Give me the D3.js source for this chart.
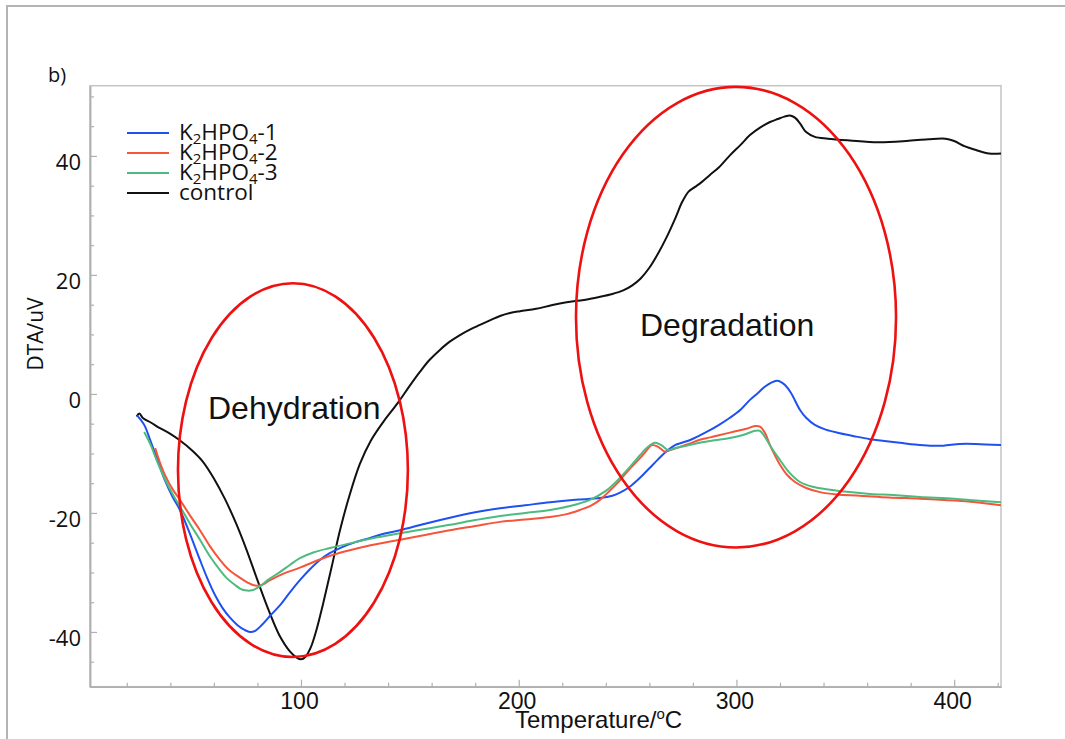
<!DOCTYPE html>
<html><head><meta charset="utf-8">
<script src="https://cdn.jsdelivr.net/npm/d3@7"></script>
<style>
html,body{margin:0;padding:0;background:#fff;}
svg{display:block;font-family:"Liberation Sans",Arial,sans-serif;}
</style></head>
<body><svg id="c" width="1065" height="739"></svg>
<script>
// ---- data ----
const seriesNames = ["K2HPO4-1", "K2HPO4-2", "K2HPO4-3", "control"];
const seriesColors = ["#1f50f0", "#f5553a", "#4dbb7f", "#111111"];

const k1T = [24.7, 28, 30.7, 34, 37.5, 41, 44.4, 49, 53.6, 57, 60.5, 64, 67.4, 71, 74.3, 76.6, 79, 82.1, 86, 90.4, 95, 99.5, 104, 108.7, 113, 117.9, 125, 131.7, 138, 145.5, 157, 168.4, 180, 191.4, 203, 214.4, 226, 237.3, 243, 246.5, 251, 255.7, 260, 264, 268, 271.8, 275, 279, 283, 287.8, 292, 297, 302, 306.2, 310, 313, 316, 318.6, 320.5, 322.3, 325, 329.2, 332, 336, 341, 347.5, 354, 361.3, 368, 375.1, 382, 388.9, 395, 402.6, 410, 421.5];
const k1V = [-3.6, -5.2, -7.7, -11, -14.5, -17.3, -19.5, -23.5, -27.9, -31, -33.8, -36, -37.6, -38.9, -39.7, -40, -39.8, -38.8, -37.2, -35.5, -33.3, -31.3, -29.5, -27.9, -26.8, -25.9, -24.9, -24.2, -23.5, -22.9, -21.8, -20.8, -19.9, -19.2, -18.7, -18.2, -17.8, -17.5, -17.1, -16.6, -15.6, -14.1, -12.5, -11, -9.6, -8.6, -8.2, -7.7, -7, -6.1, -5.2, -4, -2.6, -1, 0.2, 1.2, 1.9, 2.2, 2.0, 1.5, 0.2, -2.7, -4.0, -5.2, -6.0, -6.6, -7.1, -7.6, -7.9, -8.2, -8.5, -8.7, -8.7, -8.4, -8.4, -8.6];

const k2T = [33, 35, 37.5, 41, 44.4, 49, 53.6, 58, 62.8, 67, 72, 75.5, 78.9, 82, 85.8, 92, 99.5, 108, 117.9, 130, 145.5, 157, 168.4, 180, 191.4, 203, 214.4, 222, 228.1, 233, 237.3, 242, 246.5, 251, 255.7, 258.5, 261.2, 264, 267.2, 270, 274, 278, 283.2, 288, 292.4, 297, 301.6, 305, 308.5, 310.8, 313, 315.4, 317.5, 320, 323, 326.9, 332, 338.4, 346, 356.7, 370, 384.3, 400, 410, 421.5];
const k2V = [-9.1, -11.3, -13.6, -16, -17.8, -20.4, -22.9, -25.5, -27.9, -29.6, -30.9, -31.7, -32.2, -32.1, -31.3, -30.2, -29.2, -27.9, -26.7, -25.6, -24.5, -23.7, -22.9, -22.2, -21.5, -21.1, -20.7, -20.2, -19.5, -18.8, -17.8, -16.2, -14.5, -12.6, -10.8, -9.6, -8.6, -8.9, -9.7, -9.4, -8.9, -8.4, -7.7, -7.3, -6.9, -6.5, -6.1, -5.8, -5.4, -5.5, -6.5, -8.6, -10.2, -11.9, -13.5, -14.8, -15.8, -16.5, -16.9, -17.1, -17.4, -17.6, -17.9, -18.2, -18.7];

const k3T = [28, 31, 34, 37.5, 41, 44.4, 49, 53.6, 58, 62.8, 66, 69.7, 72, 74.3, 77.5, 81.2, 85, 90.4, 95, 99.5, 106, 113.3, 125, 135, 145.5, 157, 168.4, 180, 191.4, 203, 214.4, 224, 232.7, 240, 246.5, 251, 255.7, 259, 262.6, 265.5, 268.5, 272, 277, 283.2, 290, 297, 303, 308.5, 310.8, 313, 316, 320, 324, 329.2, 335, 343, 352, 361.3, 372, 384.3, 400, 410, 421.5];
const k3V = [-6.4, -8.6, -11.4, -14.3, -16.8, -18.9, -21.8, -24.5, -27.2, -29.6, -31, -32.1, -32.7, -33, -33, -32.3, -31.2, -29.9, -28.7, -27.6, -26.6, -25.9, -24.9, -24.1, -23.4, -22.7, -22, -21.2, -20.5, -20, -19.5, -18.8, -17.8, -16.3, -14.1, -12.3, -10.3, -9, -8.2, -8.6, -9.4, -9.1, -8.7, -8.2, -7.8, -7.4, -6.9, -6.2, -6.2, -7.2, -9.0, -11.1, -13.1, -14.8, -15.6, -16.1, -16.5, -16.8, -17.0, -17.3, -17.6, -17.9, -18.2];

const ctT = [24.5, 25.8, 27.5, 31, 35, 40, 44, 50, 55, 60, 65, 70, 75, 80, 85, 90, 95, 98, 100, 102, 104.5, 107, 110, 114, 118, 122, 127, 132, 138, 144.5, 150, 154.6, 159, 163.8, 168, 173, 178, 182.2, 187, 191.4, 196, 200.6, 208, 215, 222, 230, 237, 243, 248, 252, 256, 260, 264, 268, 272, 275, 278, 281, 284, 287.8, 292, 297, 302, 306.2, 311, 315.4, 319, 322, 324.6, 327, 329.5, 332, 336, 342, 352, 365, 378, 388, 396, 400, 405, 410, 416, 421.5];
const ctV = [-3.8, -3.3, -4.1, -4.8, -5.7, -6.7, -7.7, -9.5, -11.4, -14.2, -17.6, -21.6, -26.2, -31.3, -36.2, -40.5, -43.3, -44.3, -44.6, -44.2, -42.6, -39.8, -35.5, -29.2, -22.8, -17.4, -11.8, -7.9, -4.6, -1.5, 1.4, 3.7, 5.7, 7.4, 8.7, 9.9, 10.9, 11.6, 12.4, 13.1, 13.6, 13.9, 14.3, 14.9, 15.4, 15.8, 16.3, 16.8, 17.4, 18.2, 19.4, 21.2, 23.6, 26.4, 29.6, 32.2, 34.0, 34.8, 35.6, 36.8, 38.1, 40.1, 41.9, 43.5, 44.8, 45.7, 46.2, 46.6, 46.8, 46.4, 45.3, 44.0, 43.2, 42.9, 42.6, 42.3, 42.5, 42.8, 42.9, 42.5, 41.6, 41.0, 40.4, 40.4];

// annotation ellipses (centre T, centre V, half-width in °C, half-height in uV)
const ellipseLabels = ["Dehydration", "Degradation"];
const ellipseCx = [96.3, 299.8];
const ellipseCy = [-12.8, 12.9];
const ellipseRx = [52.8, 73.5];
const ellipseRy = [31.4, 38.7];

const xMajorTicks = [100, 200, 300, 400];
const xMinorTicks = [20, 40, 60, 80, 120, 140, 160, 180, 220, 240, 260, 280, 320, 340, 360, 380, 420];
const yMajorTicks = [-40, -20, 0, 20, 40];
const yMinorTicks = [-45, -35, -30, -25, -15, -10, -5, 5, 10, 15, 25, 30, 35, 45, 50];

// ---- drawing ----
const svg = d3.select("#c");
const L = 90, R = 1001, T = 85.7, B = 686.7;
const x = d3.scaleLinear().domain([3.1, 421.5]).range([L, R]);
const y = d3.scaleLinear().domain([-49.2, 51.8]).range([B, T]);
const sansUI = "'Open Sans', 'Noto Sans', sans-serif";

// outer frame
svg.append("rect").attr("x", 7).attr("y", 6).attr("width", 1100).attr("height", 800)
  .attr("fill", "none").attr("stroke", "#b4b4b4").attr("stroke-width", 2);

svg.append("text").attr("x", 48).attr("y", 82).attr("font-size", 20).attr("font-family", sansUI)
  .attr("fill", "#111").text("b)");

// plot box
svg.append("rect").attr("x", L).attr("y", T).attr("width", R - L).attr("height", B - T)
  .attr("fill", "none").attr("stroke", "#c4c4c4").attr("stroke-width", 1.5);

const axisCol = "#b0b0b0";
function styleAxis(g) {
  g.select(".domain").attr("stroke", axisCol).attr("stroke-width", 1.5);
  g.selectAll(".tick line").attr("stroke", axisCol).attr("stroke-width", 1.2);
}
// y axis
const gy = svg.append("g").attr("transform", `translate(${L},0)`)
  .call(d3.axisLeft(y).tickValues(yMajorTicks).tickFormat(d => String(d))
    .tickSizeInner(-7).tickSizeOuter(0).tickPadding(9));
styleAxis(gy);
gy.selectAll(".tick text").attr("font-size", 22).attr("fill", "#111").attr("dy", "0.6em")
  .attr("font-family", sansUI);
const gy2 = svg.append("g").attr("transform", `translate(${L},0)`)
  .call(d3.axisLeft(y).tickValues(yMinorTicks).tickSizeInner(-4).tickSizeOuter(0).tickFormat(""));
styleAxis(gy2);

// x axis
const gx = svg.append("g").attr("transform", `translate(0,${B})`)
  .call(d3.axisBottom(x).tickValues(xMajorTicks).tickFormat(d => String(d))
    .tickSizeInner(-7).tickSizeOuter(0).tickPadding(6));
styleAxis(gx);
gx.selectAll(".tick text").attr("font-size", 23).attr("fill", "#111").attr("dx", -2)
  .attr("font-family", "Liberation Sans, Arial, sans-serif");
const gx2 = svg.append("g").attr("transform", `translate(0,${B})`)
  .call(d3.axisBottom(x).tickValues(xMinorTicks).tickSizeInner(-4).tickSizeOuter(0).tickFormat(""));
styleAxis(gx2);

// axis titles
const xt = svg.append("text").attr("x", 515).attr("y", 728).attr("font-size", 24).attr("fill", "#111");
xt.append("tspan").text("Temperature/");
xt.append("tspan").attr("font-size", 15).attr("dy", -9).text("o");
xt.append("tspan").attr("dy", 9).text("C");

svg.append("text").attr("transform", "translate(43,334) rotate(-90)").attr("text-anchor", "middle")
  .attr("font-size", 21).attr("font-family", sansUI).attr("fill", "#111").text("DTA/uV");

// series
const seriesT = [k1T, k2T, k3T, ctT];
const seriesV = [k1V, k2V, k3V, ctV];
const line = d3.line().x(d => x(d[0])).y(d => y(d[1])).curve(d3.curveCatmullRom.alpha(0.5));
svg.append("clipPath").attr("id", "clp").append("rect")
  .attr("x", L).attr("y", T).attr("width", R - L).attr("height", B - T);
[3, 0, 1, 2].forEach(i => {
  const pts = seriesT[i].map((t, j) => [t, seriesV[i][j]]);
  svg.append("path").datum(pts).attr("d", line).attr("fill", "none")
    .attr("stroke", seriesColors[i]).attr("stroke-width", 2).attr("clip-path", "url(#clp)");
});

// ellipses
ellipseLabels.forEach((lab, i) => {
  svg.append("ellipse")
    .attr("cx", x(ellipseCx[i])).attr("cy", y(ellipseCy[i]))
    .attr("rx", x(ellipseCx[i] + ellipseRx[i]) - x(ellipseCx[i]))
    .attr("ry", y(ellipseCy[i]) - y(ellipseCy[i] + ellipseRy[i]))
    .attr("fill", "none").attr("stroke", "#ee1111").attr("stroke-width", 2.6);
});
svg.append("text").attr("x", 208).attr("y", 419).attr("font-size", 32).attr("fill", "#111").text(ellipseLabels[0]);
svg.append("text").attr("x", 640).attr("y", 336).attr("font-size", 32).attr("fill", "#111").text(ellipseLabels[1]);

// legend
const legY = [133, 153, 173, 193];
seriesNames.forEach((name, i) => {
  svg.append("line").attr("x1", 127).attr("x2", 169).attr("y1", legY[i]).attr("y2", legY[i])
    .attr("stroke", seriesColors[i]).attr("stroke-width", 2);
  const t = svg.append("text").attr("x", 179).attr("y", legY[i] + 7).attr("font-size", 22.5)
    .attr("font-family", sansUI).attr("fill", "#111");
  const m = name.match(/^K(\d)HPO(\d)(.*)$/);
  if (m) {
    t.append("tspan").text("K");
    t.append("tspan").attr("font-size", 15).attr("dy", 4).text(m[1]);
    t.append("tspan").attr("dy", -4).text("HPO");
    t.append("tspan").attr("font-size", 15).attr("dy", 4).text(m[2]);
    t.append("tspan").attr("dy", -4).text(m[3]);
  } else {
    t.text(name);
  }
});
</script></body></html>
